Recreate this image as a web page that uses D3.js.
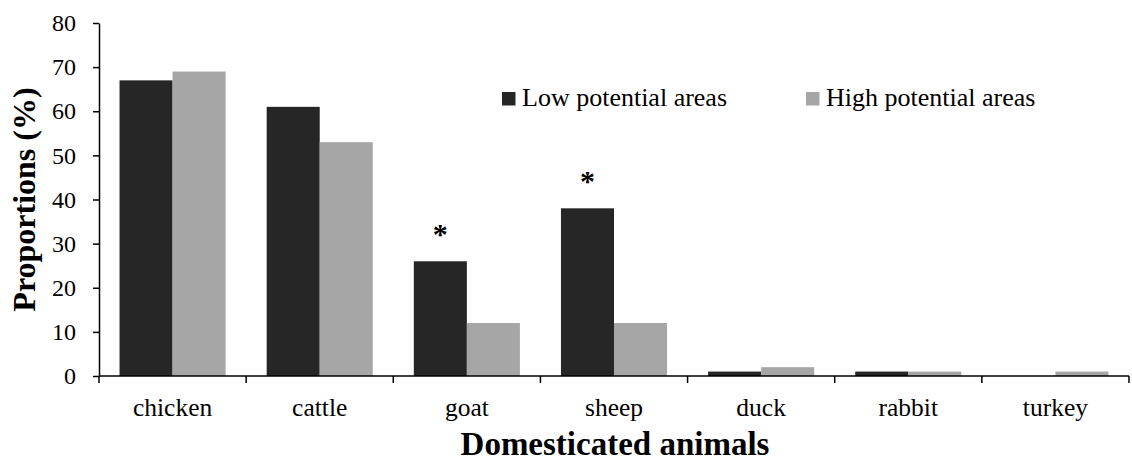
<!DOCTYPE html>
<html>
<head>
<meta charset="utf-8">
<script src="https://cdn.jsdelivr.net/npm/d3@7"></script>
<style>
  body { margin: 0; background: #fff; }
</style>
</head>
<body>
<div id="chart"></div>
<script>
const categories = ['chicken', 'cattle', 'goat', 'sheep', 'duck', 'rabbit', 'turkey'];
const seriesNames = ['Low potential areas', 'High potential areas'];
const lowValues = [67, 61, 26, 38, 1, 1, 0];
const highValues = [69, 53, 12, 12, 2, 1, 1];
const starred = ['goat', 'sheep']; // significant difference marks
const yTicks = [0, 10, 20, 30, 40, 50, 60, 70, 80];

const width = 1132, height = 461;
const margin = { top: 23, right: 3, bottom: 85, left: 99 };
const colors = ['#262626', '#a6a6a6'];
const serif = '"Times New Roman"';

const data = categories.map((c, i) => ({ cat: c, low: lowValues[i], high: highValues[i] }));

const svg = d3.select('#chart').append('svg')
  .attr('width', width)
  .attr('height', height);

const x = d3.scaleBand()
  .domain(categories)
  .range([margin.left, width - margin.right])
  .paddingInner(0)
  .paddingOuter(0);

const x1 = d3.scaleBand()
  .domain(['low', 'high'])
  .range([0, x.bandwidth()])
  .paddingOuter(0.387)
  .paddingInner(0);

const y = d3.scaleLinear()
  .domain([0, 80])
  .range([height - margin.bottom, margin.top]);

// bars
const groups = svg.append('g')
  .selectAll('g')
  .data(data)
  .join('g')
  .attr('transform', d => `translate(${x(d.cat)},0)`);

groups.selectAll('rect')
  .data(d => [{ key: 'low', v: d.low }, { key: 'high', v: d.high }])
  .join('rect')
  .attr('x', d => x1(d.key))
  .attr('y', d => y(d.v))
  .attr('width', x1.bandwidth())
  .attr('height', d => y(0) - y(d.v))
  .attr('fill', (d, i) => colors[i]);

// asterisks
svg.append('g')
  .selectAll('text')
  .data(data.filter(d => starred.includes(d.cat)))
  .join('text')
  .attr('x', d => x(d.cat) + x1('low') + x1.bandwidth() / 2)
  .attr('y', d => y(d.low) - 17)
  .attr('text-anchor', 'middle')
  .style('font-family', serif)
  .style('font-size', '30px')
  .style('font-weight', 'bold')
  .text('*');

// y axis
svg.append('g')
  .attr('transform', `translate(${margin.left},0)`)
  .call(d3.axisLeft(y).tickValues(yTicks).tickSize(6).tickSizeOuter(0).tickPadding(17))
  .call(g => g.selectAll('text').attr('fill', '#000')
    .style('font-family', serif).style('font-size', '24px'))
  .call(g => g.selectAll('line, path').attr('stroke', '#000').attr('stroke-width', 1.5));

// x axis
const xAxis = svg.append('g')
  .attr('transform', `translate(0,${y(0)})`);
xAxis.append('line')
  .attr('x1', margin.left)
  .attr('x2', width - margin.right)
  .attr('stroke', '#000')
  .attr('stroke-width', 1.5);
xAxis.selectAll('line.tick')
  .data(categories.concat(['_end']))
  .join('line')
  .attr('class', 'tick')
  .attr('x1', (d, i) => i < categories.length ? x(d) : x.range()[1])
  .attr('x2', (d, i) => i < categories.length ? x(d) : x.range()[1])
  .attr('y1', 0)
  .attr('y2', 7)
  .attr('stroke', '#000')
  .attr('stroke-width', 1.5);
xAxis.selectAll('text')
  .data(categories)
  .join('text')
  .attr('x', d => x(d) + x.bandwidth() / 2)
  .attr('y', 40)
  .attr('text-anchor', 'middle')
  .style('font-family', serif)
  .style('font-size', '25.5px')
  .text(d => d);

// axis titles
svg.append('text')
  .attr('x', 615)
  .attr('y', 455)
  .attr('text-anchor', 'middle')
  .style('font-family', serif)
  .style('font-size', '33px')
  .style('font-weight', 'bold')
  .text('Domesticated animals');

svg.append('text')
  .attr('transform', `translate(35,${(y(0) + y(80)) / 2}) rotate(-90)`)
  .attr('text-anchor', 'middle')
  .style('font-family', serif)
  .style('font-size', '32px')
  .style('font-weight', 'bold')
  .text('Proportions (%)');

// legend
const legendX = [502, 806];
const legend = svg.append('g')
  .selectAll('g')
  .data(seriesNames)
  .join('g')
  .attr('transform', (d, i) => `translate(${legendX[i]},92)`);
legend.append('rect')
  .attr('width', 13.5)
  .attr('height', 13.5)
  .attr('fill', (d, i) => colors[i]);
legend.append('text')
  .attr('x', 20)
  .attr('y', 14)
  .style('font-family', serif)
  .style('font-size', '26px')
  .text(d => d);
</script>
</body>
</html>
